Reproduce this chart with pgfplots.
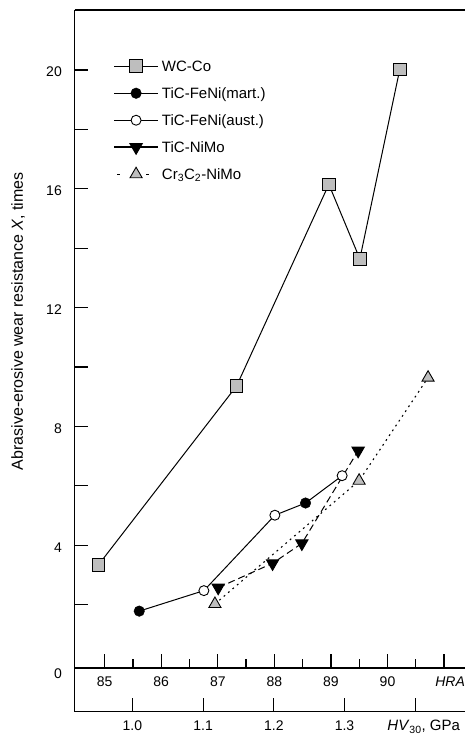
\documentclass[border=0pt]{standalone}
\usepackage{fontspec}
\setmainfont{Liberation Sans}
\usepackage{pgfplots}
\pgfplotsset{compat=1.18}
\definecolor{mgray}{RGB}{190,190,190}
\begin{document}
\begin{tikzpicture}
\useasboundingbox (-74.7pt,-66pt) rectangle (390.3pt,668pt);
\begin{axis}[
  at={(0pt,0pt)}, anchor=south west,
  scale only axis, width=390.3pt, height=658pt,
  xmin=84.47, xmax=91.37, ymin=-0.135, ymax=22.02,
  clip=false,
  axis lines=left, axis line style={-, line width=1.3pt},
  tick align=inside,
  major tick length=13.5pt, minor tick length=9.3pt,
  tick style={line width=1.2pt, black},
  xtick={85,86,87,88,89,90,91},
  xticklabels={85,86,87,88,89,90,\hspace*{12pt}\textit{HRA}},
  minor xtick={85.5,86.5,87.5,88.5,89.5,90.5},
  ytick={2,4,6,8,10,12,14,16,18,20},
  yticklabels={,4,,8,,12,,16,,20},
  extra y ticks={0}, extra y tick labels={0},
  extra y tick style={major tick length=0pt, yticklabel style={yshift=-8pt}},
  /pgf/number format/assume math mode=true,
  tick label style={font=\fontsize{14}{16}\selectfont},
  xticklabel style={inner sep=0pt, yshift=-9pt},
  yticklabel style={inner sep=0pt, xshift=-12.7pt, yshift=-2pt},
  ylabel={Abrasive-erosive wear resistance \textit{X}, times},
  ylabel style={at={(axis description cs:0,0.527)}, anchor=center, yshift=56.7pt, font=\fontsize{16}{19}\selectfont},
  legend style={at={(0.0981,0.927)}, anchor=north west, draw=none, fill=none,
    inner sep=0pt, row sep=11pt, column sep=3pt,
    font=\fontsize{15}{18}\selectfont,
    nodes={inner sep=0pt, text height=13pt, text depth=3pt}},
  legend cell align=left,
]
% WC-Co
\addplot[black, line width=1pt, mark=square*, mark size=6.3pt,
  mark options={fill=mgray, line width=0.9pt},
  legend image code/.code={\draw (0pt,0pt) -- (44pt,0pt); \draw plot coordinates {(22pt,0pt)};}]
  coordinates {(84.887,3.33) (87.332,9.36) (88.963,16.15) (89.511,13.64) (90.217,20.02)};
\addlegendentry{WC-Co}
% joint line of TiC-FeNi series
\addplot[black, line width=1pt, forget plot]
  coordinates {(85.611,1.78) (86.754,2.47) (88.009,5.01) (88.551,5.42) (89.198,6.34)};
% TiC-FeNi(mart.)
\addplot[black, only marks, mark=*, mark size=5.3pt,
  legend image code/.code={\draw[line width=1pt] (0pt,0pt) -- (44pt,0pt); \draw plot coordinates {(22pt,0pt)};}]
  coordinates {(85.611,1.78) (88.551,5.42)};
\addlegendentry{TiC-FeNi(mart.)}
% TiC-FeNi(aust.)
\addplot[black, only marks, mark=*, mark size=5pt, mark options={fill=white, line width=0.9pt},
  legend image code/.code={\draw[line width=1pt] (0pt,0pt) -- (44pt,0pt); \draw plot coordinates {(22pt,0pt)};}]
  coordinates {(86.754,2.47) (88.009,5.01) (89.198,6.34)};
\addlegendentry{TiC-FeNi(aust.)}
% TiC-NiMo
\addplot[black, line width=1pt, dash pattern=on 7pt off 4pt, mark=triangle*, mark size=7pt,
  mark options={solid, rotate=180, fill=black},
  legend image code/.code={\draw[solid, line width=1.8pt] (0pt,0pt) -- (44pt,0pt); \draw[solid] plot coordinates {(22pt,0pt)};}]
  coordinates {(87.007,2.57) (87.968,3.39) (88.486,4.06) (89.481,7.18)};
\addlegendentry{TiC-NiMo}
% Cr3C2-NiMo
\addplot[black, line width=1.1pt, dash pattern=on 1.8pt off 4pt, mark=triangle*, mark size=7pt,
  mark options={solid, fill=mgray, line width=0.9pt},
  legend image code/.code={\draw[dash pattern=on 3pt off 11.5pt, line width=1pt] (3pt,0pt) -- (38pt,0pt); \draw[solid] plot coordinates {(22pt,0pt)};}]
  coordinates {(86.949,2.02) (89.498,6.17) (90.717,9.64)};
\addlegendentry{Cr\textsubscript{3}C\textsubscript{2}-NiMo}
\draw[line width=1.3pt] (rel axis cs:0,1) -- (rel axis cs:1,1);
\end{axis}
\begin{axis}[
  at={(0pt,-43.7pt)}, anchor=south west,
  scale only axis, width=390.3pt, height=43.7pt,
  xmin=0.9184, xmax=1.4704, ymin=0, ymax=1,
  axis x line*=bottom, axis y line*=left,
  axis line style={-, line width=1.3pt},
  ytick=\empty,
  xtick={1.0,1.1,1.2,1.3,1.4},
  xticklabels={1.0,1.1,1.2,1.3,{\hspace*{17pt}{\fontsize{15}{18}\selectfont\textit{HV}\textsubscript{30}, GPa}}},
  tick align=inside, major tick length=13.3pt,
  tick style={line width=1.2pt, black},
  /pgf/number format/assume math mode=true,
  tick label style={font=\fontsize{14}{16}\selectfont},
  xticklabel style={inner sep=0pt, yshift=-8.5pt},
]
\addplot[draw=none, forget plot] coordinates {(1.0,0.5)};
\end{axis}
\end{tikzpicture}
\end{document}
